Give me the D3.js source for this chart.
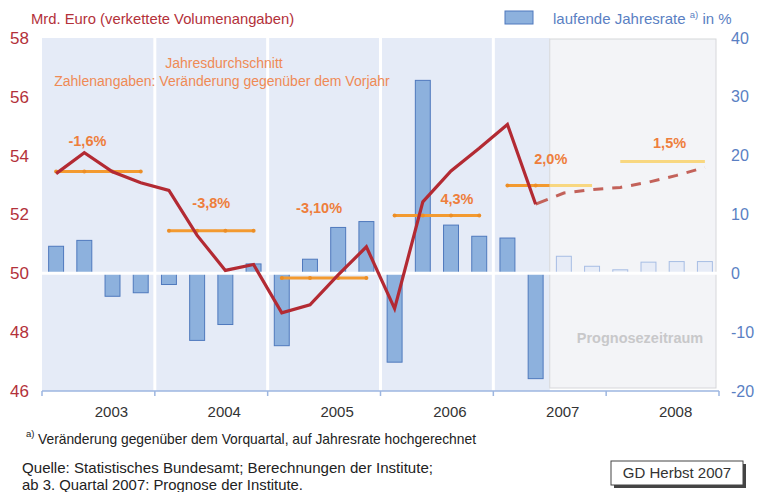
<!DOCTYPE html>
<html><head><meta charset="utf-8">
<script src="https://cdn.jsdelivr.net/npm/d3@7"></script>
<style>
body{margin:0;background:#fff;}
svg{display:block;font-family:"Liberation Sans",Arial,sans-serif;}
</style></head>
<body><svg id="c" width="757" height="492"></svg>
<script>
// ---------- DATA ----------
const years = [2003, 2004, 2005, 2006, 2007, 2008];
const quarterNames = ["Q1", "Q2", "Q3", "Q4"];
const quarters = years.flatMap(y => quarterNames.map(q => y + " " + q));
// laufende Jahresrate (%), right axis
const rate = [4.6, 5.6, -3.9, -3.3,  -1.9, -11.4, -8.7, 1.6,  -12.3, 2.4, 7.8, 8.8,
              -15.1, 32.8, 8.2, 6.3,  6.0, -17.9, 2.9, 1.2,  0.6, 1.9, 2.0, 2.0];
// Mrd. Euro (verkettete Volumenangaben), left axis
const level = [53.39, 54.1, 53.45, 53.08,  52.82, 51.29, 50.1, 50.3,  48.66, 48.93, 49.95, 50.9,
               48.8, 52.43, 53.48, 54.25,  55.06, 52.35, 52.73, 52.85,  52.92, 53.1, 53.33, 53.6];
// Jahresdurchschnitt
const yearAvg = [53.46, 51.45, 49.84, 51.97, 52.99, 53.8];
const yearChange = ["-1,6%", "-3,8%", "-3,10%", "4,3%", "2,0%", "1,5%"];
const forecastStart = 18; // index of 2007 Q3
const leftTicks = [46, 48, 50, 52, 54, 56, 58];
const rightTicks = [-20, -10, 0, 10, 20, 30, 40];

// ---------- LAYOUT ----------
const L = 42, R = 719, T = 38, B = 391;
const labelPos = [ // [dx from year centre, y in left-axis units]
  [-11, 54.32], [0, 52.21], [-5, 52.04], [20, 52.35], [1, 53.7], [7, 54.25]];

const svg = d3.select("#c");
const x = d3.scaleBand().domain(quarters).range([L, R]).paddingInner(0.47).paddingOuter(0.235);
const xc = q => x(q) + x.bandwidth() / 2;
const xYear = d3.scaleBand().domain(years).range([L, R]);
const yL = d3.scaleLinear().domain([46, 58]).range([B, T]);
const yR = d3.scaleLinear().domain([-20, 40]).range([B, T]);
const step = x.step();
const progX = L + step * forecastStart;

// background
svg.append("rect").attr("x", L).attr("y", T).attr("width", progX - L).attr("height", B - T).attr("fill", "#e5ebf7");
// white year separators
svg.selectAll("line.sep").data(years.slice(1)).enter().append("line")
  .attr("x1", d => xYear(d)).attr("x2", d => xYear(d)).attr("y1", T).attr("y2", B)
  .attr("stroke", "#fff").attr("stroke-width", 3);
// prognosis box
svg.append("rect").attr("x", progX).attr("y", T + 1).attr("width", 716 - progX).attr("height", 388 - T - 1)
  .attr("fill", "#f3f4f7").attr("stroke", "#d6d7da").attr("stroke-width", 1);
svg.append("text").attr("x", 640).attr("y", 343).attr("text-anchor", "middle")
  .attr("font-size", 14.5).attr("font-weight", "bold").attr("fill", "#c8c8ca").text("Prognosezeitraum");

// bars
svg.selectAll("rect.bar").data(quarters).enter().append("rect")
  .attr("x", q => x(q)).attr("width", x.bandwidth())
  .attr("y", (q, i) => yR(Math.max(0, rate[i])))
  .attr("height", (q, i) => Math.abs(yR(rate[i]) - yR(0)))
  .attr("fill", (q, i) => i >= forecastStart ? "#e7ecf7" : "#8db1dd")
  .attr("stroke", (q, i) => i >= forecastStart ? "#a7bde4" : "#4f79bd").attr("stroke-width", 1);

// white zero line
svg.append("line").attr("x1", L).attr("x2", R).attr("y1", yR(0)).attr("y2", yR(0))
  .attr("stroke", "#fff").attr("stroke-width", 3);

// x axis
svg.append("line").attr("x1", L).attr("x2", R).attr("y1", B).attr("y2", B).attr("stroke", "#9db6e0").attr("stroke-width", 1.5);
svg.selectAll("line.xt").data(years.concat(["end"])).enter().append("line")
  .attr("x1", d => d === "end" ? R : xYear(d)).attr("x2", d => d === "end" ? R : xYear(d))
  .attr("y1", B).attr("y2", B + 5).attr("stroke", "#9db6e0").attr("stroke-width", 1.5);
const xAxis = svg.append("g").attr("transform", `translate(13,${B})`)
  .call(d3.axisBottom(xYear).tickSize(0).tickPadding(15));
xAxis.select(".domain").remove();
xAxis.selectAll("text").attr("font-size", 15).attr("fill", "#333").attr("font-family", "Liberation Sans, Arial, sans-serif");

// left axis
const la = svg.append("g").attr("transform", `translate(${L},0)`)
  .call(d3.axisLeft(yL).tickValues(leftTicks).tickFormat(d => String(d)).tickSize(0).tickPadding(13));
la.select(".domain").remove();
la.selectAll("text").attr("font-size", 17).attr("fill", "#b3313a").attr("font-family", "Liberation Sans, Arial, sans-serif");
// right axis
const ra = svg.append("g").attr("transform", `translate(${R},0)`)
  .call(d3.axisRight(yR).tickValues(rightTicks).tickFormat(d => String(d)).tickSize(0).tickPadding(12));
ra.select(".domain").remove();
ra.selectAll("text").attr("font-size", 16).attr("fill", "#5a7fc3").attr("font-family", "Liberation Sans, Arial, sans-serif");

// annual average lines
const orange = "#f39a30", yellow = "#f8d780";
years.forEach((yr, i) => {
  const qs = quarters.slice(i * 4, i * 4 + 4);
  const x0 = xc(qs[0]), x3 = xc(qs[3]);
  const yy = yL(yearAvg[i]);
  const segs = [];
  if (x3 <= progX) segs.push([x0, x3, orange]);
  else if (x0 >= progX) segs.push([x0, x3, yellow]);
  else { segs.push([x0, progX, orange]); segs.push([progX, x3, yellow]); }
  segs.forEach(s => svg.append("line").attr("x1", s[0]).attr("x2", s[1]).attr("y1", yy).attr("y2", yy)
    .attr("stroke", s[2]).attr("stroke-width", 3));
  qs.forEach(q => { if (xc(q) < progX) svg.append("circle").attr("cx", xc(q)).attr("cy", yy).attr("r", 2).attr("fill", "#ec8e26"); });
  svg.append("text").attr("x", xYear(yr) + xYear.bandwidth() / 2 + labelPos[i][0]).attr("y", yL(labelPos[i][1]))
    .attr("text-anchor", "middle").attr("font-size", 14.5).attr("font-weight", "bold").attr("fill", "#ee7e3c").text(yearChange[i]);
});

// level line
const line = d3.line().x(d => xc(d.q)).y(d => yL(d.v));
const pts = quarters.map((q, i) => ({ q, v: level[i] }));
svg.append("path").datum(pts.slice(forecastStart - 1)).attr("d", line).attr("fill", "none")
  .attr("stroke", "#c3625a").attr("stroke-width", 3).attr("stroke-dasharray", "13,9,10,9,10,9,10,9,10,9,10,9,10,9,10,9,10,9,10,9");
svg.append("path").datum(pts.slice(0, forecastStart)).attr("d", line).attr("fill", "none")
  .attr("stroke", "#b32a33").attr("stroke-width", 3.2).attr("stroke-linejoin", "miter");

// titles / annotations
svg.append("text").attr("x", 31).attr("y", 24).attr("font-size", 14.8).attr("fill", "#b3313a").text("Mrd. Euro (verkettete Volumenangaben)");
svg.append("text").attr("x", 224).attr("y", 68).attr("text-anchor", "middle").attr("font-size", 14).attr("fill", "#ef8a55").text("Jahresdurchschnitt");
svg.append("text").attr("x", 222).attr("y", 86).attr("text-anchor", "middle").attr("font-size", 14).attr("fill", "#ef8a55").text("Zahlenangaben: Veränderung gegenüber dem Vorjahr");

// legend
svg.append("rect").attr("x", 505).attr("y", 11).attr("width", 28).attr("height", 13).attr("fill", "#8db1dd").attr("stroke", "#4f79bd");
const lt = svg.append("text").attr("x", 553).attr("y", 24).attr("font-size", 15).attr("fill", "#5a7fc3");
lt.append("tspan").text("laufende Jahresrate ");
lt.append("tspan").attr("font-size", 9.5).attr("dy", -6).text("a)");
lt.append("tspan").attr("dy", 6).text(" in %");

// footnotes
const narrow = "'Liberation Sans Narrow','Arial Narrow','Liberation Sans',sans-serif";
svg.append("text").attr("x", 26).attr("y", 437).attr("font-size", 9.5).attr("fill", "#222").attr("font-family", narrow).text("a)");
svg.append("text").attr("x", 38).attr("y", 444).attr("font-size", 15).attr("fill", "#222").attr("font-family", narrow)
  .attr("textLength", 438).attr("lengthAdjust", "spacingAndGlyphs").text("Veränderung gegenüber dem Vorquartal, auf Jahresrate hochgerechnet");
svg.append("text").attr("x", 22).attr("y", 473).attr("font-size", 15).attr("fill", "#222").attr("font-family", narrow)
  .attr("textLength", 411).attr("lengthAdjust", "spacingAndGlyphs").text("Quelle: Statistisches Bundesamt; Berechnungen der Institute;");
svg.append("text").attr("x", 22).attr("y", 490).attr("font-size", 15).attr("fill", "#222").attr("font-family", narrow)
  .attr("textLength", 281).attr("lengthAdjust", "spacingAndGlyphs").text("ab 3. Quartal 2007: Prognose der Institute.");

// GD box
svg.append("rect").attr("x", 614).attr("y", 464).attr("width", 132).attr("height", 24).attr("fill", "#444");
svg.append("rect").attr("x", 611).attr("y", 461).attr("width", 132).attr("height", 24).attr("fill", "#fff").attr("stroke", "#444").attr("stroke-width", 1);
svg.append("text").attr("x", 677).attr("y", 478).attr("text-anchor", "middle").attr("font-size", 15).attr("fill", "#333")
  .attr("font-family", narrow).text("GD Herbst 2007");
</script></body></html>
